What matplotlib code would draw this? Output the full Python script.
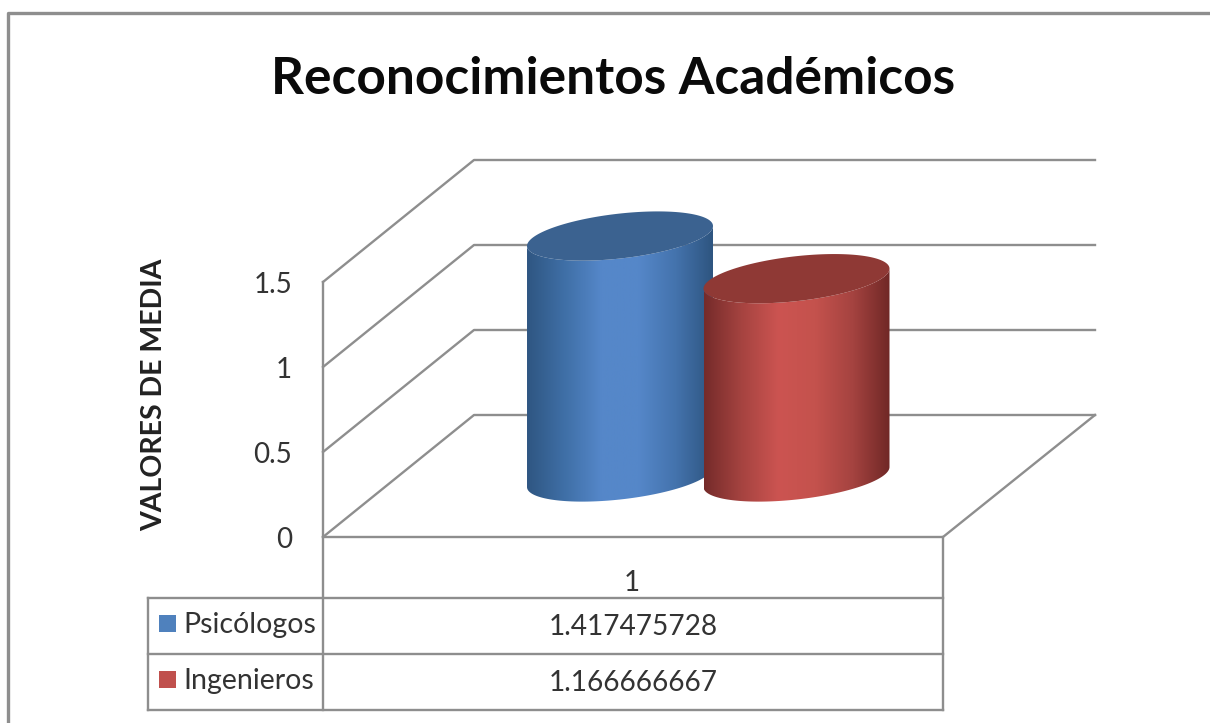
import numpy as np
import matplotlib
matplotlib.use("Agg")
import matplotlib.pyplot as plt
from matplotlib.patches import Polygon
from matplotlib.colors import LinearSegmentedColormap

plt.rcParams['font.family'] = ['Lato', 'DejaVu Sans']

# Data
title = "Reconocimientos Académicos"
y_label = "VALORES DE MEDIA"
series = ["Psicólogos", "Ingenieros"]
values = [1.417475728, 1.166666667]
value_labels = ["1.417475728", "1.166666667"]
y_ticks = [0, 0.5, 1, 1.5]
y_tick_labels = ["0", "0.5", "1", "1.5"]
category = "1"

fig = plt.figure(figsize=(12.1, 7.23), dpi=100)
ax = fig.add_axes([0, 0, 1, 1])
ax.set_xlim(0, 1210)
ax.set_ylim(723, 0)
ax.axis('off')

line_col = '#8e8e8e'
scale = 170  # pixels per unit


def seg(xs, ys, lw=1.7, z=1):
    ax.plot(xs, ys, color=line_col, lw=lw, solid_capstyle='projecting', zorder=z)


# outer border of the chart
seg([8, 8, 1210], [723, 13, 13], lw=2.4)

# walls and floor
x_front, x_back, x_right = 323, 474, 1095
y_front, y_back = 537, 415
for t in y_ticks:
    yf = y_front - t * scale
    yb = y_back - t * scale
    seg([x_front, x_back, x_right], [yf, yb, yb])
seg([x_front, x_front], [y_front - 1.5 * scale, 710])
seg([x_front, 943, x_right], [y_front, y_front, y_back])

# data table
seg([943, 943], [y_front, 710])
seg([148, 943], [598, 598])
seg([148, 943], [654, 654])
seg([148, 943], [710, 710])
seg([148, 148], [598, 710])

# cylinders
centers = [620, 796.5]
half_w = 93
skew = 10
minor = 22.5
base_y = 477
side_cols = [['#2f5682', '#3f6fa6', '#5587c9', '#5587c9', '#4473ad', '#2e5580'],
             ['#752b2a', '#a54340', '#cc5451', '#c4524d', '#a54340', '#702826']]
top_cols = ['#3b6290', '#8f3935']

t = np.linspace(0, 2 * np.pi, 200)
for cx, val, cols, top in zip(centers, values, side_cols, top_cols):
    top_y = base_y - val * scale
    ex = cx + half_w * np.cos(t)
    low = t <= np.pi
    bottom_edge = np.column_stack([ex[low], base_y + minor * np.sin(t[low]) - skew * np.cos(t[low])])
    top_edge = np.column_stack([ex[low], top_y + minor * np.sin(t[low]) - skew * np.cos(t[low])])
    body = Polygon(np.vstack([bottom_edge, top_edge[::-1]]), closed=True, transform=ax.transData,
                   fc='none', ec='none')
    ax.add_patch(body)
    cmap = LinearSegmentedColormap.from_list('c', cols)
    grad = ax.imshow(np.linspace(0, 1, 256)[None, :], cmap=cmap, aspect='auto', zorder=3,
                     extent=[cx - half_w, cx + half_w, base_y + 40, top_y - 40])
    grad.set_clip_path(body)
    cap = np.column_stack([ex, top_y + minor * np.sin(t) - skew * np.cos(t)])
    ax.add_patch(Polygon(cap, closed=True, fc=top, ec='none', zorder=4))
    ax.set_xlim(0, 1210)
    ax.set_ylim(723, 0)

# text
ax.text(613, 80, title, fontsize=37, fontweight='bold', color='#0a0a0a', ha='center', va='center')
ax.text(154, 395, y_label, fontsize=20.5, fontweight='bold', color='#222222', rotation=90,
        ha='center', va='center')
for tk, lab in zip(y_ticks, y_tick_labels):
    ax.text(292, y_front - tk * scale + 3, lab, fontsize=20, color='#333333', ha='right', va='center')
ax.text(632, 583, category, fontsize=20, color='#333333', ha='center', va='center')

# table rows with legend keys
for row_y, name, lab, col in zip([625, 681], series, value_labels, ['#4f81bd', '#c0504d']):
    ax.add_patch(Polygon([[159, row_y - 10], [176, row_y - 10], [176, row_y + 7], [159, row_y + 7]],
                         closed=True, fc=col, ec='none', zorder=3))
    ax.text(183, row_y, name, fontsize=20.5, color='#333333', ha='left', va='center')
    ax.text(633, row_y + 2, lab, fontsize=20.2, color='#333333', ha='center', va='center')

fig.savefig('out.png', dpi=100)
